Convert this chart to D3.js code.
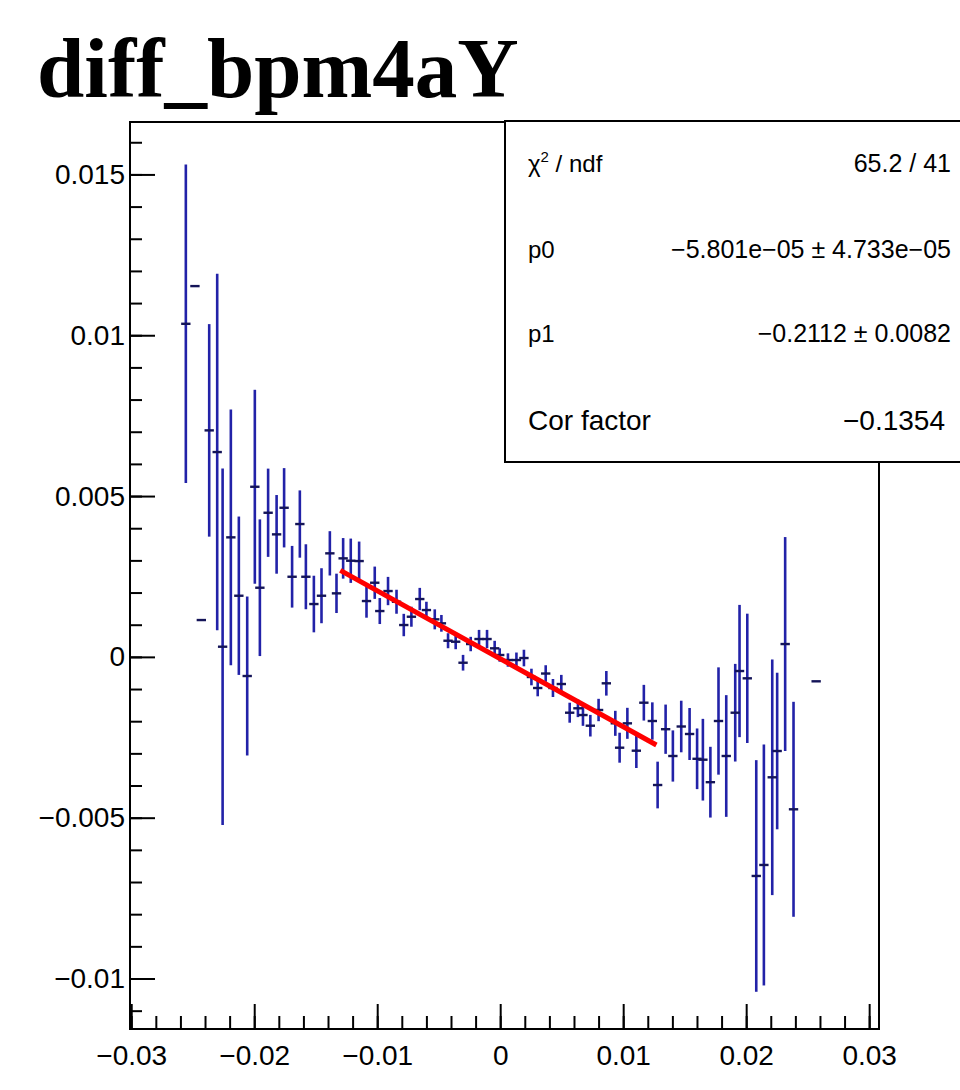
<!DOCTYPE html>
<html>
<head>
<meta charset="utf-8">
<script src="https://cdn.jsdelivr.net/npm/d3@7"></script>
<style>
  body { margin: 0; background: #fff; }
</style>
</head>
<body>
<div id="profile"></div>
<script>

// bin centres of the profile
var binX = [-0.02556, -0.02482, -0.02430, -0.02366, -0.02301, -0.02257, -0.02190, -0.02125, -0.02057, -0.01995,
    -0.01954, -0.01887, -0.01818, -0.01757, -0.01692, -0.01629, -0.01580, -0.01515, -0.01453, -0.01385,
    -0.01331, -0.01277, -0.01215, -0.01147, -0.01087, -0.01020, -0.00979, -0.00912, -0.00843, -0.00784,
    -0.00722, -0.00654, -0.00600, -0.00532, -0.00478, -0.00424, -0.00362, -0.00302, -0.00240, -0.00172,
    -0.00107, -0.00045, -0.00004, 0.00063, 0.00132, 0.00193, 0.00254, 0.00305, 0.00370, 0.00429,
    0.00497, 0.00565, 0.00632, 0.00673, 0.00733, 0.00800, 0.00863, 0.00936, 0.00971, 0.01034,
    0.01107, 0.01168, 0.01237, 0.01280, 0.01345, 0.01404, 0.01472, 0.01540, 0.01601, 0.01648,
    0.01709, 0.01775, 0.01838, 0.01911, 0.01946, 0.02009, 0.02082, 0.02144, 0.02212, 0.02252,
    0.02317, 0.02385, 0.02569];

// mean value in each bin
var meanY = [0.010356, 0.011528, 0.001145, 0.007042, 0.006368, 0.000316, 0.003716, 0.001901, -0.000595, 0.005289,
    0.002150, 0.004481, 0.003809, 0.004636, 0.002491, 0.004130, 0.002491, 0.001643, 0.001901, 0.003219,
    0.001975, 0.003063, 0.002989, 0.002979, 0.001736, 0.002305, 0.001425, 0.002047, 0.001714, 0.000990,
    0.001248, 0.001798, 0.001456, 0.001167, 0.001043, 0.000502, 0.000471, -0.000182, 0.000399, 0.000555,
    0.000555, 0.000266, 0.000058, -0.000098, -0.000098, -0.000036, -0.000626, -0.000968, -0.000518, -0.000968,
    -0.000844, -0.001736, -0.001599, -0.001808, -0.002140, -0.001652, -0.000822, -0.002066, -0.002824, -0.002066,
    -0.002917, -0.001425, -0.001994, -0.003984, -0.002249, -0.003082, -0.002165, -0.002398, -0.003169, -0.003197,
    -0.003896, -0.001994, -0.003082, -0.001736, -0.000440, -0.000667, -0.006812, -0.006470, -0.003744, -0.002927,
    0.000399, -0.004739, -0.000760];

// error on the mean
var errY = [0.004949, 0, 0, 0.003304, 0.005544, 0.005544, 0.003974, 0.002462, 0.002471, 0.003015,
    0.002125, 0.001372, 0.001223, 0.001233, 0.000959, 0.001046, 0.001010, 0.000880, 0.000855, 0.000689,
    0.000612, 0.000631, 0.000689, 0.000606, 0.000518, 0.000502, 0.000404, 0.000440, 0.000373, 0.000348,
    0.000311, 0.000347, 0.000258, 0.000311, 0.000260, 0.000233, 0.000233, 0.000244, 0.000224, 0.000284,
    0.000284, 0.000233, 0.000208, 0.000208, 0.000233, 0.000258, 0.000258, 0.000258, 0.000258, 0.000280,
    0.000284, 0.000311, 0.000274, 0.000336, 0.000336, 0.000348, 0.000382, 0.000389, 0.000466, 0.000482,
    0.000539, 0.000555, 0.000580, 0.000726, 0.000766, 0.000796, 0.000802, 0.000808, 0.000943, 0.001270,
    0.001100, 0.001668, 0.001892, 0.001518, 0.002056, 0.002010, 0.003601, 0.003746, 0.003663, 0.002434,
    0.003326, 0.003342, 0];

var binHalf = 0.00038;

// axis labels
var xTickValues = [-0.03, -0.02, -0.01, 0, 0.01, 0.02, 0.03];
var xTickLabels = ["\u22120.03", "\u22120.02", "\u22120.01", "0", "0.01", "0.02", "0.03"];
var yTickValues = [-0.01, -0.005, 0, 0.005, 0.01, 0.015];
var yTickLabels = ["\u22120.01", "\u22120.005", "0", "0.005", "0.01", "0.015"];

// fit result
var fitP0 = -5.801e-05, fitP1 = -0.2112;
var fitRange = [-0.0130, 0.0127];
var statNames = ["ndf", "p0", "p1", "Cor factor"];
var statValues = ["65.2 / 41", "\u22125.801e\u221205 \u00b1 4.733e\u221205", "\u22120.2112 \u00b1 0.0082", "\u22120.1354"];

var titleText = "diff_bpm4aY";

//dimensions and margins of the graph
var margin = { top: 122, right: 81, bottom: 61, left: 130 },
    width = 960 - margin.left - margin.right,
    height = 1090 - margin.top - margin.bottom;

var font = "'Liberation Sans', Arial, Helvetica, sans-serif";

var root = d3.select("#profile")
    .append("svg")
    .attr("width", 960)
    .attr("height", 1090)
    .style("background", "#fff");

var svg = root.append("g")
    .attr("transform", "translate(" + margin.left + "," + margin.top + ")");

var x = d3.scaleLinear()
    .domain([-0.0301, 0.0308])
    .range([0, width]);

var y = d3.scaleLinear()
    .domain([-0.01157, 0.01663])
    .range([height, 0]);

// title
root.append("text")
    .attr("x", 37)
    .attr("y", 97)
    .style("font-family", "'Liberation Serif', 'Times New Roman', serif")
    .style("font-weight", "bold")
    .style("font-size", "85px")
    .text(titleText);

// minor ticks
svg.append("g")
    .call(d3.axisLeft(y).tickValues(d3.range(-0.011, 0.0166, 0.001)).tickSizeInner(-12).tickSizeOuter(0).tickFormat(""))
    .call(function (g) { g.select(".domain").remove(); })
    .selectAll("line").attr("stroke-width", 2);

svg.append("g")
    .attr("transform", "translate(0," + height + ")")
    .call(d3.axisBottom(x).tickValues(d3.range(-0.03, 0.0305, 0.002)).tickSizeInner(-13).tickSizeOuter(0).tickFormat(""))
    .call(function (g) { g.select(".domain").remove(); })
    .selectAll("line").attr("stroke-width", 2);

// Y axis
svg.append("g")
    .call(d3.axisLeft(y).tickValues(yTickValues).tickSizeInner(-25).tickSizeOuter(0).tickPadding(5)
        .tickFormat(function (d, i) { return yTickLabels[i]; }))
    .call(function (g) { g.select(".domain").remove(); })
    .call(function (g) { g.selectAll("line").attr("stroke-width", 2); })
    .selectAll("text")
    .style("font-family", font)
    .style("font-size", "28px")
    .attr("fill", "#000");

// X axis
svg.append("g")
    .attr("transform", "translate(0," + height + ")")
    .call(d3.axisBottom(x).tickValues(xTickValues).tickSizeInner(-25).tickSizeOuter(0).tickPadding(16)
        .tickFormat(function (d, i) { return xTickLabels[i]; }))
    .call(function (g) { g.select(".domain").remove(); })
    .call(function (g) { g.selectAll("line").attr("stroke-width", 2); })
    .selectAll("text")
    .style("font-family", font)
    .style("font-size", "28px")
    .attr("fill", "#000");

// frame
svg.append("rect")
    .attr("x", 0)
    .attr("y", 0)
    .attr("width", width)
    .attr("height", height)
    .attr("fill", "none")
    .attr("stroke", "#000")
    .attr("stroke-width", 2);

var points = binX.map(function (d, i) {
    return { x: d, m: meanY[i], e: errY[i] };
});

// error bars
var bars = svg.append("g");
bars.selectAll("line.v")
    .data(points.filter(function (d) { return d.e > 0; }))
    .enter()
    .append("line")
    .attr("class", "v")
    .attr("x1", function (d) { return x(d.x); })
    .attr("x2", function (d) { return x(d.x); })
    .attr("y1", function (d) { return y(d.m + d.e); })
    .attr("y2", function (d) { return y(d.m - d.e); })
    .attr("stroke", "#2222a8")
    .attr("stroke-width", 2.6);

bars.selectAll("line.h")
    .data(points)
    .enter()
    .append("line")
    .attr("class", "h")
    .attr("x1", function (d) { return x(d.x - binHalf); })
    .attr("x2", function (d) { return x(d.x + binHalf); })
    .attr("y1", function (d) { return y(d.m); })
    .attr("y2", function (d) { return y(d.m); })
    .attr("stroke", "#141458")
    .attr("stroke-width", 2.4);

// fit line
svg.append("path")
    .datum(fitRange)
    .attr("d", d3.line()
        .x(function (d) { return x(d); })
        .y(function (d) { return y(fitP0 + fitP1 * d); }))
    .attr("stroke", "#ff0000")
    .attr("stroke-width", 5)
    .attr("fill", "none");

// stats box
var box = root.append("g");
box.append("rect")
    .attr("x", 505)
    .attr("y", 121)
    .attr("width", 480)
    .attr("height", 341)
    .attr("fill", "#fff")
    .attr("stroke", "#000")
    .attr("stroke-width", 2);

var rowY = [172, 258, 342, 430];
statNames.forEach(function (name, i) {
    var big = i === 3;
    var t = box.append("text")
        .attr("x", 528)
        .attr("y", rowY[i])
        .style("font-family", font)
        .style("font-size", big ? "28px" : "24px");
    if (i === 0) {
        t.append("tspan").text("\u03c7");
        t.append("tspan").attr("dy", -10).style("font-size", "15px").text("2");
        t.append("tspan").attr("dy", 10).text(" / " + name);
    } else {
        t.text(name);
    }
    box.append("text")
        .attr("x", big ? 945 : 951)
        .attr("y", rowY[i])
        .attr("text-anchor", "end")
        .style("font-family", font)
        .style("font-size", big ? "28px" : "25px")
        .text(statValues[i]);
});

</script>
</body>
</html>
